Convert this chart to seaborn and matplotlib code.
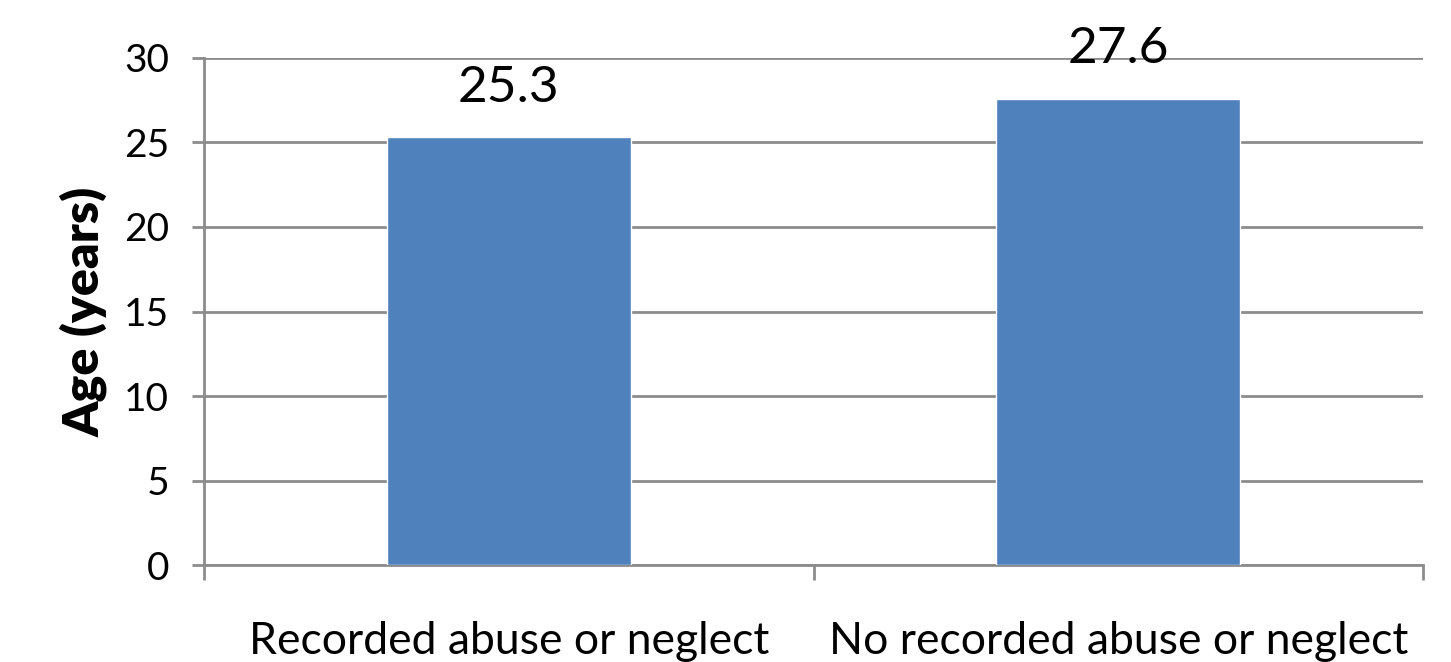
import matplotlib
matplotlib.use("Agg")
import matplotlib.pyplot as plt
import seaborn as sns
import pandas as pd

categories = ["Recorded abuse or neglect", "No recorded abuse or neglect"]
ages = [25.3, 27.6]
y_ticks = [0, 5, 10, 15, 20, 25, 30]

sns.set_style("white")
plt.rcParams["font.family"] = ["Lato", "DejaVu Sans"]
plt.rcParams["text.color"] = "black"
plt.rcParams["axes.labelcolor"] = "black"
plt.rcParams["xtick.color"] = "black"
plt.rcParams["ytick.color"] = "black"

df = pd.DataFrame({"group": categories, "age": ages})

fig = plt.figure(figsize=(14.51, 6.62), dpi=100)
ax = fig.add_axes([0.1406, 0.1465, 0.8401, 0.7659])

grid_color = "#8c8c8c"
sns.barplot(data=df, x="group", y="age", color="#4F81BD", width=0.4,
            saturation=1, ax=ax, zorder=3)

ax.set_ylim(0, 30)
ax.set_xlim(-0.5, 1.5)
ax.set_yticks(y_ticks)
ax.set_yticklabels([str(t) for t in y_ticks], fontsize=28)
ax.yaxis.grid(True, color=grid_color, linewidth=2, zorder=0)
ax.set_axisbelow(True)

# category ticks sit on the boundaries between groups
ax.set_xticks([-0.5, 0.5, 1.5])
ax.set_xticklabels([])
ax.set_xticks([0, 1], minor=True)
ax.set_xticklabels(categories, minor=True, fontsize=32)
ax.tick_params(axis="x", which="minor", bottom=False, length=0, pad=40, labelcolor="black")
ax.tick_params(axis="x", which="major", bottom=True, length=11, width=2,
               color=grid_color, direction="out")
ax.tick_params(axis="y", left=True, length=9, width=2, color=grid_color,
               direction="out", pad=16, labelcolor="black")

for side in ["top", "right"]:
    ax.spines[side].set_visible(False)
for side in ["left", "bottom"]:
    ax.spines[side].set_color(grid_color)
    ax.spines[side].set_linewidth(2)

ax.set_xlabel("")
ax.set_ylabel("Age (years)", fontsize=36, fontweight="heavy", labelpad=12)

for i, v in enumerate(ages):
    ax.text(i, v + 2.1, f"{v}", ha="center", va="baseline", fontsize=37)

fig.savefig("out.png", dpi=100)
